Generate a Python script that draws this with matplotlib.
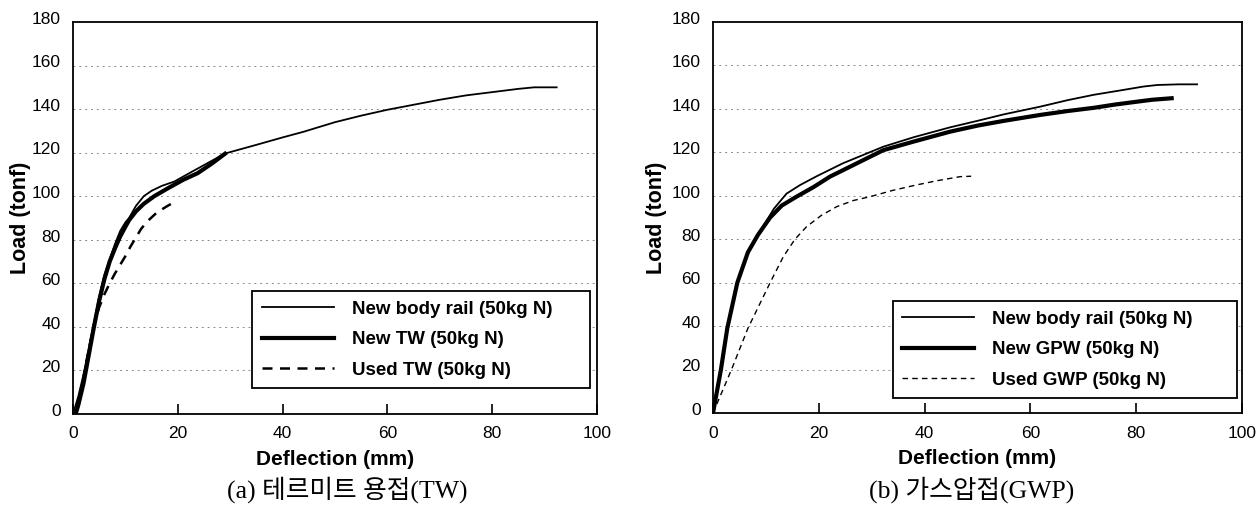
import matplotlib
matplotlib.use("Agg")
import matplotlib.pyplot as plt
import matplotlib.transforms as mtransforms

# -----------------------
# 1. Data (load in tonf vs deflection in mm)
# -----------------------
# (a) Thermit welding
a_body_x = [0, 1, 2, 3, 4, 5, 6, 7, 8, 9, 10, 10.7, 12, 13.5, 15, 17, 19.3, 22.5, 25, 29,
            35, 40, 44, 50, 55, 60, 65, 70, 75, 80, 85, 88, 92.3]
a_body_y = [0, 8, 18, 30, 42, 54, 64, 71, 78, 84, 88, 90, 95.5, 100, 102.5, 104.8, 106.7, 111,
            114.3, 119.6, 123.6, 127, 129.6, 134, 137, 139.7, 142, 144.3, 146.3, 147.8, 149.3, 150, 150]

a_new_x = [0.5, 1, 2, 3, 4, 5, 6, 7, 8, 9, 10, 10.7, 12, 13.5, 15.5, 18, 21, 23.8, 26.5, 29]
a_new_y = [0, 4, 14, 27, 40, 52, 62, 70, 76, 81.5, 86, 89, 93, 96.5, 100, 103.5, 107.5, 110.6, 115, 119.5]

a_used_x = [0.5, 1, 2, 3, 4, 5, 6, 7, 8, 9, 10, 11, 12, 13, 14.2, 16, 18, 19.5]
a_used_y = [0, 5, 17, 29.5, 41, 49, 55, 60, 64.5, 68.5, 72.5, 77, 81, 85, 88.5, 92.5, 95.5, 97.5]

# (b) Gas pressure welding
b_body_x = [0, 1.5, 2.7, 4.6, 6.4, 8, 9.5, 11.5, 13.9, 16.5, 19.6, 24.6, 32.2, 38, 44.8, 50,
            55, 61.8, 67, 72, 77, 81.4, 84, 88, 91.5]
b_body_y = [0, 20, 39, 60, 72, 80, 86, 94, 101, 105, 109, 115, 122.6, 127, 131.5, 134.5,
            137.5, 141, 144, 146.5, 148.5, 150.3, 151, 151.3, 151.3]

b_new_x = [0, 1.5, 2.7, 4.6, 6.6, 8.5, 10.8, 13, 15.8, 19, 22.1, 26, 32.2, 38, 44.8, 50,
           55, 61.8, 67, 72, 76, 80.1, 83, 86.7]
b_new_y = [0, 20, 39, 60, 74, 82, 90, 95.5, 99.6, 104, 108.8, 113.5, 121, 125, 129.5, 132.3,
           134.5, 137.2, 139, 140.5, 142, 143.3, 144.2, 144.9]

b_used_x = [0, 3.5, 6.6, 10.8, 13.3, 15.5, 17.7, 20.5, 23.4, 26.5, 29.7, 34, 38.5, 42.5, 46.7, 48.8]
b_used_y = [0, 20, 39, 60, 72, 80, 85.8, 91, 95, 97.8, 99.6, 102.5, 105, 107, 108.8, 109]

labels_a = ['New body rail (50kg N)', 'New TW (50kg N)', 'Used TW (50kg N)']
labels_b = ['New body rail (50kg N)', 'New GPW (50kg N)', 'Used GWP (50kg N)']
captions = ['(a) 테르미트 용접(TW)', '(b) 가스압접(GWP)']

x_ticks = [0, 20, 40, 60, 80, 100]
y_ticks = [0, 20, 40, 60, 80, 100, 120, 140, 160, 180]

# -----------------------
# 2. Figure
# -----------------------
plt.rcParams['font.family'] = ['Liberation Sans', 'DejaVu Sans']
fig = plt.figure(figsize=(12.58, 5.08), dpi=100)
ax_a = fig.add_axes([73 / 1258, 1 - 414 / 508, 524 / 1258, 392 / 508])
ax_b = fig.add_axes([713 / 1258, 1 - 413 / 508, 529 / 1258, 391 / 508])

ax_a.plot(a_body_x, a_body_y, color='black', lw=1.3, label=labels_a[0])
ax_a.plot(a_new_x, a_new_y, color='black', lw=3.0, label=labels_a[1])
ax_a.plot(a_used_x, a_used_y, color='black', lw=1.8, ls=(0, (4, 3)), label=labels_a[2])

ax_b.plot(b_body_x, b_body_y, color='black', lw=1.3, label=labels_b[0])
ax_b.plot(b_new_x, b_new_y, color='black', lw=3.0, label=labels_b[1])
ax_b.plot(b_used_x, b_used_y, color='black', lw=1.0, ls=(0, (4, 3)), label=labels_b[2])

leg_boxes = [(0.342, 0.066, 0.645, 0.25), (0.340, 0.038, 0.650, 0.25)]
label_x = [-0.081, -0.087]

for i, ax in enumerate([ax_a, ax_b]):
    ax.set_xlim(0, 100)
    ax.set_ylim(0, 180)
    ax.set_xticks(x_ticks)
    ax.set_yticks(y_ticks)
    for y in y_ticks[1:-1]:
        ax.axhline(y, color='#8a8a8a', lw=0.7, ls=(0, (2, 4)), zorder=0)
    ax.tick_params(axis='x', direction='in', length=7, width=1.2, pad=9, labelsize=12.5)
    ax.tick_params(axis='y', length=0, pad=9, labelsize=12.5)
    offset = mtransforms.ScaledTranslation(0, 3 / 72, fig.dpi_scale_trans)
    for lab in ax.get_yticklabels():
        lab.set_transform(lab.get_transform() + offset)
    for s in ax.spines.values():
        s.set_linewidth(1.3)
    ax.set_xlabel('Deflection (mm)', fontsize=15, fontweight='bold', labelpad=6)
    ax.set_ylabel('Load (tonf)', fontsize=15.5, fontweight='bold')
    ax.yaxis.set_label_coords(label_x[i], 0.5)
    leg = ax.legend(loc='lower left', bbox_to_anchor=leg_boxes[i], mode='expand',
                    borderaxespad=0, fancybox=False, framealpha=1, edgecolor='black',
                    prop={'weight': 'bold', 'size': 13.5}, handlelength=3.85,
                    handletextpad=0.95, labelspacing=0.72, borderpad=0.5)
    leg.get_frame().set_linewidth(1.3)

fig.text(347 / 1258, 1 - 490 / 508, captions[0], ha='center', va='center', fontsize=18.5,
         family=['Liberation Serif', 'Noto Sans CJK KR'])
fig.text(972 / 1258, 1 - 490 / 508, captions[1], ha='center', va='center', fontsize=18.5,
         family=['Liberation Serif', 'Noto Sans CJK KR'])

plt.savefig("out.png", dpi=100)
